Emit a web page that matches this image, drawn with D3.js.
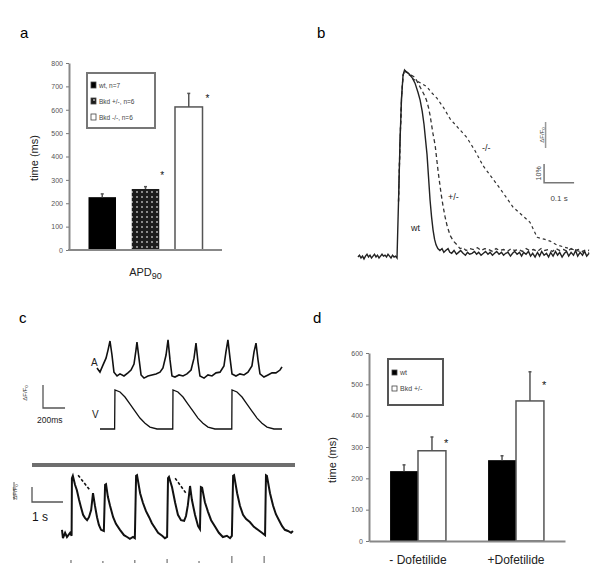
<!DOCTYPE html>
<html>
<head>
<meta charset="utf-8">
<script src="https://cdn.jsdelivr.net/npm/d3@7"></script>
<style>
  body { margin: 0; background: #fff; }
  svg { font-family: "Liberation Sans", Arial, sans-serif; }
</style>
</head>
<body>
<div id="fig"></div>
<script>
// panel a: APD90 per genotype
const aGroups = ["wt, n=7", "Bkd +/-, n=6", "Bkd -/-, n=6"];
const aValues = [226, 261, 612];
const aErrors = [14, 10, 58];
const aTicks = [0, 100, 200, 300, 400, 500, 600, 700, 800];

// panel b: normalized transients (ms, % of peak)
const bWt = [[0,0.5],[5,1.5],[10,0],[15,1],[20,-0.5],[25,1],[30,2],[35,0.5],[40,1.5],[45,0],[50,1],[55,2],[60,0.5],[65,1.5],[70,0],[75,1],[80,2],[85,1],[90,1.5],[95,0.5],[100,2],[105,1],[110,0],[115,1.5],[120,0.5],[125,1],[130,0],[135,30],[140,62],[145,85],[150,97],[155,100],[160,99],[170,98],[180,96],[190,93],[200,88],[207,84],[214,78],[220,71],[225,63],[230,55],[235,43],[240,31],[245,22],[250,15],[255,10],[260,7],[266,5],[273,4],[280,5],[286,3],[292,4],[300,5],[306,3],[312,2.5],[320,4],[328,2],[335,3],[342,4],[350,2.5],[358,1.5],[365,3],[372,2],[380,2.5],[388,3.5],[395,2],[402,3],[410,1.5],[418,2.5],[425,3.5],[433,2],[440,3],[448,1.5],[455,2.5],[462,3.5],[470,2],[478,3],[485,1.5],[492,2.5],[500,3],[508,1],[515,2.5],[522,3.5],[530,2],[538,3],[545,1],[552,3],[560,2],[568,3.5],[575,1],[582,2.5],[590,0.5],[598,3],[605,1],[612,3.5],[620,1.5],[628,2.5],[635,0.5],[642,3],[650,1],[658,3.5],[665,1.5],[672,3],[680,0.5],[688,2.5],[695,3.5],[702,1],[710,3],[718,1.5],[725,4],[732,1],[740,3],[748,1.5],[755,3.5],[762,1],[770,2.5]];
const bHet = [[135,30],[140,62],[145,85],[150,97],[155,100],[162,99],[170,98],[180,97],[190,96],[200,93],[210,90],[220,87],[228,84],[235,80],[240,76],[245,71],[250,66],[257,60],[262,53],[267,46],[272,40],[277,34],[283,28],[290,22],[297,17],[307,12],[318,9],[330,7],[340,5],[350,5.5],[360,4],[372,5],[385,4.5],[398,5.5],[410,4],[422,5],[435,4.5],[448,3.5],[460,5],[472,4],[485,4.5],[498,3.5],[510,5],[522,4],[535,4.5],[548,3.5],[560,5],[572,4],[585,4.5],[598,3.5],[610,5],[622,4],[635,4.5],[648,3.5],[660,5],[672,4],[685,4.5],[698,3.5],[710,5],[722,4],[735,4.5],[748,3.5],[760,4.5],[770,4]];
const bKo = [[135,30],[140,62],[145,85],[150,97],[155,100],[165,98],[175,97],[185,95],[197,94],[210,93],[220,92],[230,91],[245,88],[263,85],[285,80],[307,74],[335,69],[363,64],[390,57],[417,49],[445,43],[473,37],[495,32],[517,27],[545,23],[573,19],[585,15],[597,11],[620,10],[640,9],[662,7],[683,6],[705,5],[728,4],[750,3],[770,3]];

// panel c: atrial (A) and ventricular (V) transients, ms
const cA = [[0,23],[27,11],[54,31],[82,51],[100,74],[118,100],[136,60],[154,11],[182,0],[209,6],[245,0],[281,9],[309,17],[336,34],[354,74],[363,97],[381,51],[400,3],[427,-6],[463,0],[499,3],[536,6],[572,11],[599,23],[627,60],[645,103],[663,46],[681,0],[708,-3],[745,3],[781,0],[817,6],[854,17],[881,51],[899,94],[917,40],[935,0],[972,-6],[1008,3],[1044,0],[1081,9],[1117,11],[1153,29],[1171,69],[1189,103],[1208,51],[1226,6],[1262,0],[1298,6],[1335,3],[1371,11],[1407,29],[1426,69],[1444,94],[1462,46],[1480,6],[1516,-3],[1553,3],[1589,9],[1625,9],[1662,17],[1680,26]];
const cV = [[27,0],[154,0],[160,0],[163,100],[209,95],[254,82],[300,64],[345,46],[390,28],[436,15],[481,5],[545,0],[681,0],[688,0],[690,100],[735,95],[781,82],[826,64],[872,46],[917,28],[962,15],[1008,5],[1071,0],[1217,0],[1224,0],[1226,100],[1271,95],[1317,82],[1362,64],[1407,46],[1453,28],[1498,15],[1544,5],[1607,0],[1680,0]];
// panel c bottom: paced recording, s
const cPaced = [[0,12],[0.03,-2],[0.10,7],[0.16,0],[0.26,7],[0.31,2],[0.32,98],[0.35,102],[0.42,87],[0.48,78],[0.55,62],[0.61,50],[0.68,37],[0.74,32],[0.81,28],[0.87,33],[0.94,45],[1.00,73],[1.06,53],[1.13,33],[1.19,20],[1.26,12],[1.35,10],[1.39,87],[1.42,88],[1.48,67],[1.55,52],[1.65,33],[1.74,22],[1.87,12],[2.00,3],[2.10,0],[2.19,-3],[2.29,0],[2.35,-2],[2.39,102],[2.42,103],[2.52,73],[2.61,57],[2.71,43],[2.81,33],[2.90,23],[3.00,15],[3.10,7],[3.23,2],[3.32,-2],[3.39,0],[3.42,98],[3.45,100],[3.55,83],[3.65,57],[3.74,37],[3.84,28],[3.94,27],[4.00,35],[4.06,53],[4.13,85],[4.19,62],[4.29,37],[4.39,18],[4.45,13],[4.48,83],[4.52,82],[4.61,58],[4.71,42],[4.81,28],[4.94,17],[5.06,7],[5.19,0],[5.32,2],[5.42,-2],[5.48,2],[5.52,102],[5.55,103],[5.65,73],[5.74,52],[5.84,37],[5.94,30],[6.06,25],[6.19,17],[6.32,12],[6.45,7],[6.55,3],[6.58,103],[6.61,102],[6.71,73],[6.81,52],[6.90,38],[7.00,28],[7.10,18],[7.19,12],[7.29,10],[7.39,7],[7.45,10]];
const cDashes = [[[0.52,103],[0.90,78]], [[3.65,98],[4.00,73]]];
const cStim = [0.29, 1.32, 2.35, 3.39, 4.42, 5.48, 6.52];
const cStimSize = [3, 2, 3, 4, 2, 7, 7];

// panel d: APD with / without dofetilide
const dConditions = ["- Dofetilide", "+Dofetilide"];
const dGroups = ["wt", "Bkd +/-"];
const dValues = [[223, 288], [258, 447]];
const dErrors = [[20, 44], [14, 93]];
const dTicks = [0, 100, 200, 300, 400, 500, 600];

const svg = d3.select("#fig").append("svg")
  .attr("width", 600)
  .attr("height", 585);

const defs = svg.append("defs");
const pat = defs.append("pattern")
  .attr("id", "dots")
  .attr("width", 5).attr("height", 5)
  .attr("patternUnits", "userSpaceOnUse");
pat.append("rect").attr("width", 5).attr("height", 5).attr("fill", "#1c1c1c");
pat.append("rect").attr("x", 1).attr("y", 1).attr("width", 2).attr("height", 2).attr("fill", "#8a8a8a");

function panelLabel(x, y, t) {
  svg.append("text").attr("x", x).attr("y", y)
    .attr("font-size", 15).attr("fill", "#000").text(t);
}
panelLabel(20, 38, "a");
panelLabel(317, 38, "b");
panelLabel(19, 323, "c");
panelLabel(313, 323, "d");

function styleAxis(g) {
  g.select(".domain").attr("stroke", "#888").attr("stroke-width", 2);
  g.selectAll(".tick line").attr("stroke", "#777");
  g.selectAll(".tick text").attr("fill", "#555").attr("font-size", 7);
}

function errBar(g, x, y0, y1) {
  g.append("line").attr("x1", x).attr("x2", x).attr("y1", y0).attr("y2", y1)
    .attr("stroke", "#555").attr("stroke-width", 1.5);
  g.append("line").attr("x1", x - 1.5).attr("x2", x + 1.5).attr("y1", y1).attr("y2", y1)
    .attr("stroke", "#555").attr("stroke-width", 1.5);
}

// ---------- panel a ----------
{
  const g = svg.append("g");
  const y = d3.scaleLinear().domain([0, 800]).range([250, 63]);
  const x0 = d3.scaleBand().domain(["APD90"]).range([69, 222]).paddingInner(0).paddingOuter(0.171);
  const x1 = d3.scaleBand().domain(aGroups).range([0, x0.bandwidth()]).paddingInner(0.364).paddingOuter(0);
  const fills = ["#000", "url(#dots)", "#fff"];

  aGroups.forEach((k, i) => {
    const bx = x0("APD90") + x1(k);
    g.append("rect")
      .attr("x", bx).attr("y", y(aValues[i]))
      .attr("width", x1.bandwidth()).attr("height", y(0) - y(aValues[i]))
      .attr("fill", fills[i]).attr("stroke", i === 2 ? "#555" : "none").attr("stroke-width", 1.5);
    errBar(g, bx + x1.bandwidth() / 2, y(aValues[i]), y(aValues[i] + aErrors[i]));
  });
  g.append("text").attr("x", x0("APD90") + x1(aGroups[1]) + x1.bandwidth() + 1).attr("y", y(aValues[1] + aErrors[1]) - 8)
    .attr("font-size", 10).attr("fill", "#111").text("*");
  g.append("text").attr("x", x0("APD90") + x1(aGroups[2]) + x1.bandwidth() + 3).attr("y", y(aValues[2] + aErrors[2]) + 9)
    .attr("font-size", 10).attr("fill", "#111").text("*");

  const ya = g.append("g").attr("transform", "translate(69,0)")
    .call(d3.axisLeft(y).tickValues(aTicks).tickSize(3).tickSizeOuter(0));
  styleAxis(ya);
  g.append("line").attr("x1", 68).attr("x2", 222).attr("y1", 250).attr("y2", 250)
    .attr("stroke", "#888").attr("stroke-width", 2);

  g.append("text").attr("transform", "translate(38,158) rotate(-90)")
    .attr("text-anchor", "middle").attr("font-size", 11).attr("fill", "#222").text("time (ms)");
  const xl = g.append("text").attr("x", x0("APD90") + x0.bandwidth() / 2).attr("y", 276)
    .attr("text-anchor", "middle").attr("font-size", 11).attr("fill", "#222");
  xl.append("tspan").text("APD");
  xl.append("tspan").attr("dy", 3).attr("font-size", 9).text("90");

  const lg = g.append("g").attr("transform", "translate(87,73)");
  lg.append("rect").attr("width", 68).attr("height", 55).attr("fill", "#fff")
    .attr("stroke", "#777").attr("stroke-width", 2);
  aGroups.forEach((k, i) => {
    lg.append("rect").attr("x", 4).attr("y", 9 + i * 16).attr("width", 5).attr("height", 6)
      .attr("fill", fills[i]).attr("stroke", "#444").attr("stroke-width", 0.8);
    lg.append("text").attr("x", 12).attr("y", 15 + i * 16).attr("font-size", 6.5).attr("fill", "#444").text(k);
  });
}

// ---------- panel b ----------
{
  const g = svg.append("g");
  const x = d3.scaleLinear().domain([0, 773]).range([358, 590]);
  const y = d3.scaleLinear().domain([0, 100]).range([258, 70]);
  const line = d3.line().x(d => x(d[0])).y(d => y(d[1]));
  g.append("path").datum(bKo).attr("d", line).attr("fill", "none")
    .attr("stroke", "#333").attr("stroke-width", 1.2).attr("stroke-dasharray", "3,3");
  g.append("path").datum(bHet).attr("d", line).attr("fill", "none")
    .attr("stroke", "#333").attr("stroke-width", 1.3).attr("stroke-dasharray", "4,3");
  g.append("path").datum(bWt).attr("d", line).attr("fill", "none")
    .attr("stroke", "#222").attr("stroke-width", 1.4);

  g.append("text").attr("x", 482).attr("y", 151).attr("font-size", 9).attr("fill", "#222").text("-/-");
  g.append("text").attr("x", 448).attr("y", 200).attr("font-size", 9).attr("fill", "#222").text("+/-");
  g.append("text").attr("x", 411).attr("y", 231).attr("font-size", 9).attr("fill", "#222").text("wt");

  // scale bar: 10 % / 0.1 s
  g.append("path").attr("d", `M${x(620)},${y(50)}V${y(40)}H${x(720)}`)
    .attr("fill", "none").attr("stroke", "#777").attr("stroke-width", 1.5);
  g.append("text").attr("transform", `translate(${x(620) - 3},${y(45)}) rotate(-90)`)
    .attr("text-anchor", "middle").attr("font-size", 7).attr("fill", "#444").text("10%");
  g.append("text").attr("x", x(670)).attr("y", y(40) + 18)
    .attr("text-anchor", "middle").attr("font-size", 8).attr("fill", "#444").text("0.1 s");
  g.append("line").attr("x1", x(625)).attr("x2", x(625)).attr("y1", 122).attr("y2", 148)
    .attr("stroke", "#999").attr("stroke-width", 1.5);
  g.append("text").attr("transform", `translate(${x(625) - 2},135) rotate(-90)`)
    .attr("text-anchor", "middle").attr("font-size", 6).attr("fill", "#444").text("ΔF/F₀");
}

// ---------- panel c ----------
{
  const g = svg.append("g");
  const x = d3.scaleLinear().domain([0, 1680]).range([97, 282]);
  const yA = d3.scaleLinear().domain([0, 100]).range([376, 341]);
  const yV = d3.scaleLinear().domain([0, 100]).range([429, 390]);
  g.append("path").datum(cA).attr("d", d3.line().x(d => x(d[0])).y(d => yA(d[1])))
    .attr("fill", "none").attr("stroke", "#111").attr("stroke-width", 1.6);
  g.append("path").datum(cV).attr("d", d3.line().x(d => x(d[0])).y(d => yV(d[1])))
    .attr("fill", "none").attr("stroke", "#111").attr("stroke-width", 1.3);
  g.append("text").attr("x", 91).attr("y", 366).attr("font-size", 10).attr("fill", "#222").text("A");
  g.append("text").attr("x", 92).attr("y", 418).attr("font-size", 10).attr("fill", "#222").text("V");

  // 200 ms scale bar
  g.append("path").attr("d", `M43,385V408H${43 + x(200) - x(0)}`)
    .attr("fill", "none").attr("stroke", "#555").attr("stroke-width", 1.3);
  g.append("text").attr("x", 37).attr("y", 423).attr("font-size", 8.5).attr("fill", "#222").text("200ms");
  g.append("text").attr("transform", "translate(27,393) rotate(-90)")
    .attr("text-anchor", "middle").attr("font-size", 6).attr("fill", "#333").text("ΔF/F₀");

  g.append("line").attr("x1", 32).attr("x2", 295).attr("y1", 465).attr("y2", 465)
    .attr("stroke", "#6e6e6e").attr("stroke-width", 4);

  const xs = d3.scaleLinear().domain([0, 7.5]).range([62, 294.5]);
  const ys = d3.scaleLinear().domain([0, 100]).range([537, 477]);
  const ls = d3.line().x(d => xs(d[0])).y(d => ys(d[1]));
  g.append("path").datum(cPaced).attr("d", ls)
    .attr("fill", "none").attr("stroke", "#111").attr("stroke-width", 2);
  cDashes.forEach(s => {
    g.append("path").datum(s).attr("d", ls).attr("fill", "none")
      .attr("stroke", "#111").attr("stroke-width", 1.6).attr("stroke-dasharray", "3,2");
  });
  cStim.forEach((t, i) => {
    g.append("line").attr("x1", xs(t)).attr("x2", xs(t))
      .attr("y1", 563 - cStimSize[i]).attr("y2", 563)
      .attr("stroke", "#555").attr("stroke-width", 1);
  });
  // 1 s scale bar
  g.append("path").attr("d", `M32,487V502H${32 + xs(1) - xs(0)}`)
    .attr("fill", "none").attr("stroke", "#555").attr("stroke-width", 1.3);
  g.append("text").attr("x", 32).attr("y", 521).attr("font-size", 12).attr("fill", "#111").text("1 s");
  g.append("line").attr("x1", 14).attr("x2", 14).attr("y1", 482).attr("y2", 500)
    .attr("stroke", "#999").attr("stroke-width", 1.5);
  g.append("text").attr("transform", "translate(17,492) rotate(-90)")
    .attr("text-anchor", "middle").attr("font-size", 6).attr("fill", "#333").text("ΔF/F₀");
}

// ---------- panel d ----------
{
  const g = svg.append("g");
  const y = d3.scaleLinear().domain([0, 600]).range([541, 353]);
  const x0 = d3.scaleBand().domain(dConditions).range([369, 565]).paddingInner(0.43).paddingOuter(0.215);
  const x1 = d3.scaleBand().domain(dGroups).range([0, x0.bandwidth()]).padding(0);
  const fills = ["#000", "#fff"];

  dConditions.forEach((c, ci) => {
    dGroups.forEach((k, i) => {
      const bx = x0(c) + x1(k);
      const v = dValues[ci][i];
      g.append("rect").attr("x", bx).attr("y", y(v))
        .attr("width", x1.bandwidth()).attr("height", y(0) - y(v))
        .attr("fill", fills[i]).attr("stroke", i === 1 ? "#555" : "none").attr("stroke-width", 1.5);
      errBar(g, bx + x1.bandwidth() / 2, y(v), y(v + dErrors[ci][i]));
    });
    const wx = x0(c) + x1(dGroups[1]) + x1.bandwidth();
    g.append("text").attr("x", wx - 2).attr("y", y(dValues[ci][1] + dErrors[ci][1] * 0.55) + 4)
      .attr("font-size", 11).attr("fill", "#111").text("*");
  });

  const ya = g.append("g").attr("transform", "translate(369,0)")
    .call(d3.axisLeft(y).tickValues(dTicks).tickSize(3).tickSizeOuter(0));
  styleAxis(ya);
  const xa = g.append("g").attr("transform", "translate(0,541)")
    .call(d3.axisBottom(x0).tickSize(0).tickPadding(14).tickSizeOuter(0));
  xa.select(".domain").attr("stroke", "#888").attr("stroke-width", 2);
  xa.selectAll(".tick text").attr("font-size", 12).attr("fill", "#222");

  g.append("text").attr("transform", "translate(336,460) rotate(-90)")
    .attr("text-anchor", "middle").attr("font-size", 11).attr("fill", "#222").text("time (ms)");

  const lg = g.append("g").attr("transform", "translate(388,359)");
  lg.append("rect").attr("width", 55).attr("height", 46).attr("fill", "#fff")
    .attr("stroke", "#555").attr("stroke-width", 2);
  dGroups.forEach((k, i) => {
    lg.append("rect").attr("x", 4).attr("y", 11 + i * 16).attr("width", 5).attr("height", 5)
      .attr("fill", fills[i]).attr("stroke", "#444").attr("stroke-width", 0.8);
    lg.append("text").attr("x", 12).attr("y", 16 + i * 16).attr("font-size", 7).attr("fill", "#444").text(k);
  });
}
</script>
</body>
</html>
